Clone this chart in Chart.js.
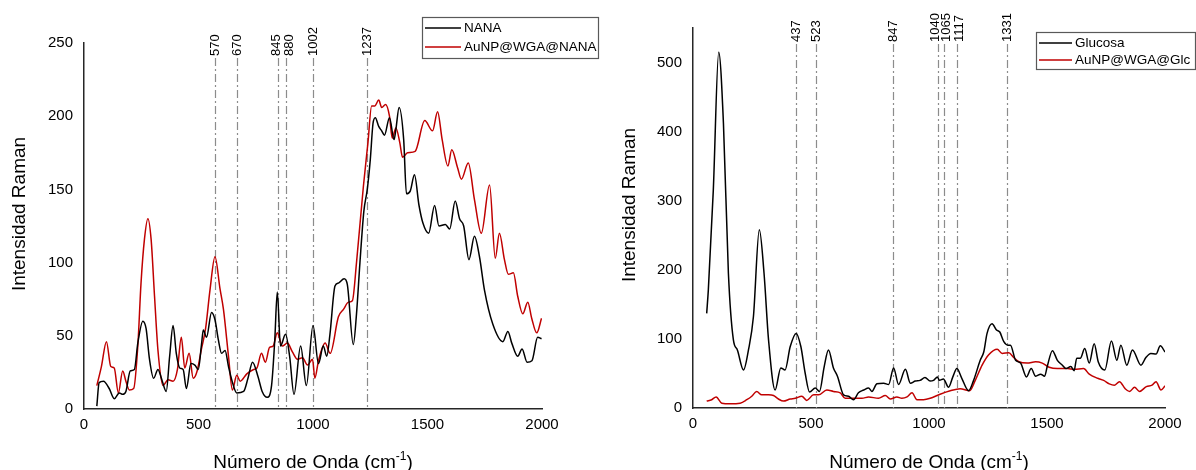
<!DOCTYPE html>
<html>
<head>
<meta charset="utf-8">
<script src="https://cdn.jsdelivr.net/npm/chart.js@4.4.1/dist/chart.umd.min.js"></script>
<style>
  html, body { margin: 0; padding: 0; background: #fff; }
  #wrap { position: relative; width: 1196px; height: 470px; overflow: hidden; }
  #left { position: absolute; left: 0; top: 0; }
  #right { position: absolute; left: 600px; top: 0; }
</style>
</head>
<body>
<div id="wrap">
  <canvas id="left" width="600" height="470"></canvas>
  <canvas id="right" width="596" height="470"></canvas>
</div>
<script>
// Left panel: NANA
const nanaX = [56,66,85,110,132,154,169,183,202,220,235,257,271,286,304,323,340,359,374,389,403,418,433,447,467,484,499,513,521,535,557,572,587,601,616,631,645,667,697,716,736,760,778,800,819,833,844,858,880,898,917,946,971,1000,1024,1045,1060,1074,1096,1111,1136,1150,1176,1190,1205,1222,1237,1250,1262,1272,1287,1300,1312,1334,1354,1362,1376,1396,1408,1425,1443,1463,1480,1505,1531,1550,1578,1597,1621,1640,1658,1681,1705,1727,1749,1785,1829,1851,1868,1894,1913,1935,1956,1981,1998];
const nanaY = [2,18,19,14,7,11,10,12,26,27,45,60,55,34,21,27,20,12,36,57,38,28,27,14,31,30,27,44,54,49,66,61,47,38,40,29,20,11,12,21,32,22,12,8,16,47,80,43,51,36,10,43,16,57,31,43,36,51,84,86,89,85,44,65,100,135,150,170,195,199,193,190,187,199,184,191,206,184,147,149,160,139,127,120,139,125,126,123,142,130,125,102,118,104,81,58,46,53,45,36,41,32,33,49,48];

// Left panel: AuNP@WGA@NANA
const auNanaX = [56,76,98,117,132,150,169,183,198,217,235,249,264,279,293,308,323,345,367,389,408,425,440,459,477,494,513,531,550,572,594,609,631,648,667,682,711,741,755,775,792,810,826,844,866,888,910,932,954,976,998,1008,1024,1053,1075,1111,1133,1155,1172,1190,1220,1240,1256,1270,1287,1300,1317,1334,1346,1362,1379,1391,1413,1446,1488,1522,1544,1564,1589,1606,1631,1648,1678,1705,1735,1771,1796,1814,1836,1853,1875,1894,1916,1938,1955,1977,1998];
const auNanaY = [16,29,46,29,28,11,26,19,13,14,43,86,116,130,116,77,40,16,20,19,27,49,28,38,21,26,41,55,81,104,82,68,36,13,23,19,24,27,28,38,32,42,43,52,43,45,39,34,35,30,34,21,33,45,38,63,68,73,74,100,152,182,207,207,211,206,208,200,185,192,182,172,175,176,197,190,203,184,166,177,165,157,168,143,120,153,103,120,102,92,93,77,65,73,62,52,62];

// Right panel: Glucosa
const glcX = [58,65,86,109,129,150,171,188,214,235,256,281,301,320,348,372,390,412,437,457,475,494,518,536,556,574,595,612,638,659,680,701,723,744,758,779,808,829,850,871,900,921,942,962,983,1005,1019,1036,1044,1061,1083,1101,1118,1139,1168,1189,1217,1232,1246,1267,1286,1300,1317,1334,1345,1367,1388,1413,1433,1452,1473,1490,1501,1523,1544,1565,1580,1601,1615,1626,1641,1660,1679,1700,1717,1745,1773,1796,1813,1838,1862,1898,1919,1940,1962,1980,2000];
const glcY = [137,171,315,515,412,195,99,84,55,84,132,258,195,99,26,58,55,89,108,89,51,23,29,24,60,84,58,46,19,17,12,22,26,29,24,35,36,34,58,34,56,36,39,40,44,39,40,45,40,42,30,45,57,43,25,40,69,81,108,122,113,110,96,91,91,69,65,45,57,46,49,46,60,83,69,62,57,60,54,72,72,86,65,93,67,55,97,69,91,62,84,62,73,79,78,90,81];

// Right panel: AuNP@WGA@Glc
const auGlcX = [58,79,98,122,157,200,228,249,270,291,320,341,362,383,412,433,461,482,511,532,567,595,624,645,680,716,744,786,815,836,864,885,907,928,949,977,1005,1047,1090,1132,1172,1196,1225,1253,1289,1310,1338,1359,1381,1416,1452,1480,1509,1544,1587,1615,1655,1679,1715,1740,1764,1785,1807,1831,1850,1871,1892,1921,1945,1962,1983,2000];
const auGlcY = [10,12,16,7,6,7,12,17,24,19,19,18,13,10,13,14,17,11,19,19,26,24,22,14,14,14,16,14,18,13,16,14,16,22,12,12,14,20,25,28,25,40,62,77,85,79,80,73,67,65,67,65,59,57,57,56,57,49,43,40,35,33,38,28,24,30,24,31,33,38,26,32];

// marked bands
const nanaPeaks = [570, 670, 845, 880, 1002, 1237];
const glcPeaks = [437, 523, 847, 1040, 1065, 1117, 1331];

const xTicks = [0, 500, 1000, 1500, 2000];

const FONT = '"Liberation Sans", Arial, sans-serif';
const BLACK = '#000000';
const RED = '#c00000';

function toPoints(xs, ys) {
    const n = Math.min(xs.length, ys.length);
    const pts = [];
    for (let i = 0; i < n; i++) pts.push({ x: xs[i], y: ys[i] });
    return pts;
}

function series(label, xs, ys, color) {
    return {
        label: label,
        data: toPoints(xs, ys),
        borderColor: color,
        backgroundColor: color,
        borderWidth: 1.5,
        pointRadius: 0,
        showLine: true,
        fill: false,
        cubicInterpolationMode: 'monotone'
    };
}

// spread label positions so neighbouring rotated labels do not overlap
function spreadLabels(xs, minGap) {
    const out = xs.slice();
    for (let i = 1; i < out.length; i++) {
        const d = out[i] - out[i - 1];
        if (d < minGap) {
            const push = (minGap - d) / 2;
            out[i - 1] -= push;
            out[i] += push;
        }
    }
    return out;
}

// peak lines, axis titles and boxed legend
const decorPlugin = {
    id: 'decor',
    beforeDatasetsDraw(chart, args, opts) {
        const ctx = chart.ctx;
        const area = chart.chartArea;
        const xScale = chart.scales.x;
        ctx.save();

        // dash-dot band markers
        ctx.strokeStyle = '#8c8c8c';
        ctx.lineWidth = 1.2;
        ctx.setLineDash([8, 3, 2, 3]);
        ctx.font = '13px ' + FONT;
        ctx.fillStyle = '#000';
        const top = area.top + opts.peakTop;
        const lineXs = opts.peaks.map(p => Math.round(xScale.getPixelForValue(p)) + 0.5);
        const labelXs = spreadLabels(lineXs, 13);
        opts.peaks.forEach((p, i) => {
            const x = lineXs[i];
            ctx.beginPath();
            ctx.moveTo(x, top);
            ctx.lineTo(x, area.bottom);
            ctx.stroke();
            ctx.save();
            ctx.translate(labelXs[i], top - 2);
            ctx.rotate(-Math.PI / 2);
            ctx.textAlign = 'left';
            ctx.textBaseline = 'middle';
            ctx.fillText(String(p), 0, 0);
            ctx.restore();
        });
        ctx.setLineDash([]);

        // x title with superscript
        const cx = (area.left + area.right) / 2;
        const main = 'Número de Onda (cm';
        const sup = '-1';
        ctx.font = '19px ' + FONT;
        const wMain = ctx.measureText(main).width;
        const wClose = ctx.measureText(')').width;
        ctx.font = '12px ' + FONT;
        const wSup = ctx.measureText(sup).width;
        const x0 = cx - (wMain + wSup + wClose) / 2;
        ctx.textAlign = 'left';
        ctx.textBaseline = 'alphabetic';
        ctx.font = '19px ' + FONT;
        ctx.fillText(main, x0, opts.xTitleY);
        ctx.font = '12px ' + FONT;
        ctx.fillText(sup, x0 + wMain, opts.xTitleY - 8);
        ctx.font = '19px ' + FONT;
        ctx.fillText(')', x0 + wMain + wSup, opts.xTitleY);

        // y title
        ctx.save();
        ctx.translate(opts.yTitleX, opts.yTitleY);
        ctx.rotate(-Math.PI / 2);
        ctx.textAlign = 'center';
        ctx.textBaseline = 'middle';
        ctx.fillText('Intensidad Raman', 0, 0);
        ctx.restore();

        // legend box
        const lg = opts.legend;
        ctx.fillStyle = '#fff';
        ctx.fillRect(lg.x, lg.y, lg.w, lg.h);
        ctx.strokeStyle = '#595959';
        ctx.lineWidth = 1.2;
        ctx.strokeRect(lg.x + 0.5, lg.y + 0.5, lg.w, lg.h);
        ctx.font = '13.5px ' + FONT;
        ctx.textBaseline = 'middle';
        chart.data.datasets.forEach((ds, i) => {
            const ry = lg.y + lg.first + i * lg.gap;
            ctx.strokeStyle = ds.borderColor;
            ctx.lineWidth = 1.5;
            ctx.beginPath();
            ctx.moveTo(lg.x + 3, ry);
            ctx.lineTo(lg.x + 3 + lg.line, ry);
            ctx.stroke();
            ctx.fillStyle = '#000';
            ctx.fillText(ds.label, lg.x + 6 + lg.line, ry);
        });
        ctx.restore();
    }
};

function scalesFor(yMax, yStep, yWidth, xHeight) {
    const tickFont = { family: FONT, size: 15 };
    return {
        x: {
            type: 'linear',
            min: 0,
            max: 2000,
            afterBuildTicks: s => { s.ticks = xTicks.map(v => ({ value: v })); },
            ticks: {
                padding: 7, color: '#000', font: tickFont, maxRotation: 0, autoSkip: false,
                callback: v => String(v)
            },
            grid: { display: false, drawTicks: false },
            border: { display: true, color: '#262626', width: 1.5 },
            afterFit: s => { s.height = xHeight; }
        },
        y: {
            type: 'linear',
            min: 0,
            max: yMax,
            ticks: { stepSize: yStep, padding: 11, color: '#000', font: tickFont, callback: v => String(v) },
            afterBuildTicks: s => { s.ticks = s.ticks.filter(t => t.value % yStep === 0); },
            grid: { display: false, drawTicks: false },
            border: { display: true, color: '#262626', width: 1.5 },
            afterFit: s => { s.width = yWidth; }
        }
    };
}

document.addEventListener('DOMContentLoaded', () => {
    new Chart(document.getElementById('left').getContext('2d'), {
        type: 'scatter',
        data: {
            datasets: [
                series('NANA', nanaX, nanaY, BLACK),
                series('AuNP@WGA@NANA', auNanaX, auNanaY, RED)
            ]
        },
        options: {
            responsive: false,
            animation: false,
            devicePixelRatio: 1,
            layout: { padding: { left: 0, right: 58, top: 43, bottom: 0 } },
            scales: scalesFor(250, 50, 84, 61),
            plugins: {
                legend: { display: false },
                tooltip: { enabled: false },
                decor: {
                    peaks: nanaPeaks,
                    peakTop: 15,
                    xTitleY: 468,
                    yTitleX: 20,
                    yTitleY: 214,
                    legend: { x: 422, y: 17, w: 176, h: 41, first: 11, gap: 19, line: 36 }
                }
            }
        },
        plugins: [decorPlugin]
    });

    new Chart(document.getElementById('right').getContext('2d'), {
        type: 'scatter',
        data: {
            datasets: [
                series('Glucosa', glcX, glcY, BLACK),
                series('AuNP@WGA@Glc', auGlcX, auGlcY, RED)
            ]
        },
        options: {
            responsive: false,
            animation: false,
            devicePixelRatio: 1,
            layout: { padding: { left: 0, right: 31, top: 28, bottom: 0 } },
            scales: scalesFor(550, 100, 93, 62),
            plugins: {
                legend: { display: false },
                tooltip: { enabled: false },
                decor: {
                    peaks: glcPeaks,
                    peakTop: 16,
                    xTitleY: 468,
                    yTitleX: 30,
                    yTitleY: 205,
                    legend: { x: 436, y: 32, w: 159, h: 37, first: 11, gap: 17, line: 33 }
                }
            }
        },
        plugins: [decorPlugin]
    });
});
</script>
</body>
</html>
